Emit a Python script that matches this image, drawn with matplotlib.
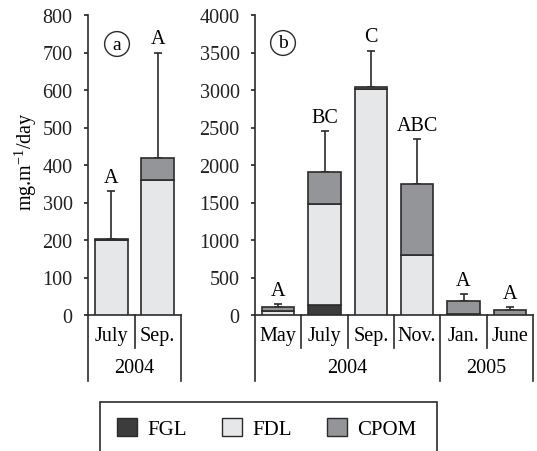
import matplotlib
matplotlib.use("Agg")
import matplotlib.pyplot as plt
from matplotlib.patches import Patch, Rectangle
from matplotlib.lines import Line2D
import numpy as np

plt.rcParams['font.family'] = ['Liberation Serif', 'DejaVu Serif']
plt.rcParams['mathtext.fontset'] = 'custom'
plt.rcParams['mathtext.rm'] = 'Liberation Serif'
plt.rcParams['mathtext.it'] = 'Liberation Serif:italic'
plt.rcParams['font.size'] = 14

# ---- data ----
series = ['FGL', 'FDL', 'CPOM']
colors = ['#3c3c3c', '#e6e7e9', '#939598']

a_months = ['July', 'Sep.']
a_year = ['2004']
a_fgl = [0, 0]
a_fdl = [200, 360]
a_cpom = [4, 60]
a_err_top = [330, 700]
a_letters = ['A', 'A']

b_months = ['May', 'July', 'Sep.', 'Nov.', 'Jan.', 'June']
b_years = ['2004', '2005']
b_year_span = [4, 2]
b_fgl = [5, 140, 0, 0, 10, 5]
b_fdl = [50, 1335, 3010, 795, 0, 0]
b_cpom = [50, 430, 35, 950, 180, 62]
b_err_top = [150, 2450, 3525, 2345, 280, 105]
b_letters = ['A', 'BC', 'C', 'ABC', 'A', 'A']

W, H = 537, 452
fig = plt.figure(figsize=(W / 100, H / 100), dpi=100)

def px_axes(left, right, top, bottom):
    return fig.add_axes([left / W, 1 - bottom / H, (right - left) / W, (bottom - top) / H])

edge = '#2b2b2b'
lw = 1.2
LAB = 14.5

def draw_panel(ax, months, fgl, fdl, cpom, err_top, letters, ymax, ystep,
               year_labels, year_span):
    n = len(months)
    x = np.arange(n)
    fgl = np.array(fgl, float); fdl = np.array(fdl, float); cpom = np.array(cpom, float)
    bottoms = np.zeros(n)
    for vals, c in zip([fgl, fdl, cpom], colors):
        ax.bar(x, vals, 0.7, bottom=bottoms, color=c, edgecolor=edge, linewidth=lw, zorder=3)
        bottoms = bottoms + vals
    tops = bottoms
    err = np.array(err_top) - tops
    ax.errorbar(x, tops, yerr=[np.zeros(n), err], fmt='none', ecolor=edge,
                elinewidth=lw, capsize=3, capthick=lw, zorder=2)
    for xi, et, lab in zip(x, err_top, letters):
        ax.annotate(lab, (xi, et), xytext=(0, 3), textcoords='offset points',
                    ha='center', va='bottom', fontsize=14.5)
    ax.set_xlim(-0.5, n - 0.5)
    ax.set_ylim(0, ymax)
    ax.set_yticks(np.arange(0, ymax + 1, ystep))
    ax.set_xticks([])
    for s in ['top', 'right']:
        ax.spines[s].set_visible(False)
    for s in ['left', 'bottom']:
        ax.spines[s].set_color(edge)
        ax.spines[s].set_linewidth(lw)
    ax.tick_params(axis='y', length=3, width=lw, pad=8, labelsize=14.5, colors='#222222')
    trans = ax.get_xaxis_transform()
    ax_h_px = ax.get_position().height * H
    def yfrac(px_below):
        return -px_below / ax_h_px
    for i, m in enumerate(months):
        ax.text(i, yfrac(21), m, transform=trans, ha='center', va='center', fontsize=LAB)
    year_edges = np.concatenate([[0], np.cumsum(year_span)]) - 0.5
    for i in range(n + 1):
        xe = i - 0.5
        is_year = np.any(np.isclose(year_edges, xe))
        y_end = yfrac(66) if is_year else yfrac(33)
        ax.add_line(Line2D([xe, xe], [0, y_end], transform=trans, color=edge,
                           lw=lw, clip_on=False))
    for j, yl in enumerate(year_labels):
        xc = (year_edges[j] + year_edges[j + 1]) / 2
        ax.text(xc, yfrac(53), yl, transform=trans, ha='center', va='center', fontsize=LAB)
    return ax

axa = px_axes(88, 181, 16, 316)
draw_panel(axa, a_months, a_fgl, a_fdl, a_cpom, a_err_top, a_letters, 800, 100,
           a_year, [2])
axb = px_axes(255, 533, 16, 316)
draw_panel(axb, b_months, b_fgl, b_fdl, b_cpom, b_err_top, b_letters, 4000, 500,
           b_years, b_year_span)

for cx, cy, t in [(117, 45, 'a'), (283, 44, 'b')]:
    fig.text(cx / W, 1 - cy / H, t, ha='center', va='center', fontsize=14,
             bbox=dict(boxstyle='circle,pad=0.2', fc='white', ec=edge, lw=1.0))

fig.text(26 / W, 1 - 162 / H, 'mg.m$^{-1}$/day', rotation=90, ha='center',
         va='center', fontsize=LAB)

# legend
handles = [Patch(facecolor=c, edgecolor=edge, linewidth=1.0) for c in colors]
fig.legend(handles, series, ncol=3, loc='center left',
           bbox_to_anchor=(117 / W, 1 - 429.5 / H), frameon=False,
           handlelength=0.95, handleheight=0.95, handletextpad=0.5,
           columnspacing=1.7, borderpad=0, borderaxespad=0, fontsize=15)
fig.add_artist(Rectangle((100 / W, -0.1), 337 / W, 0.1 + (452 - 403) / H,
                         transform=fig.transFigure, fill=False, ec=edge, lw=1.2,
                         clip_on=False))

fig.savefig('out.png', dpi=100)
